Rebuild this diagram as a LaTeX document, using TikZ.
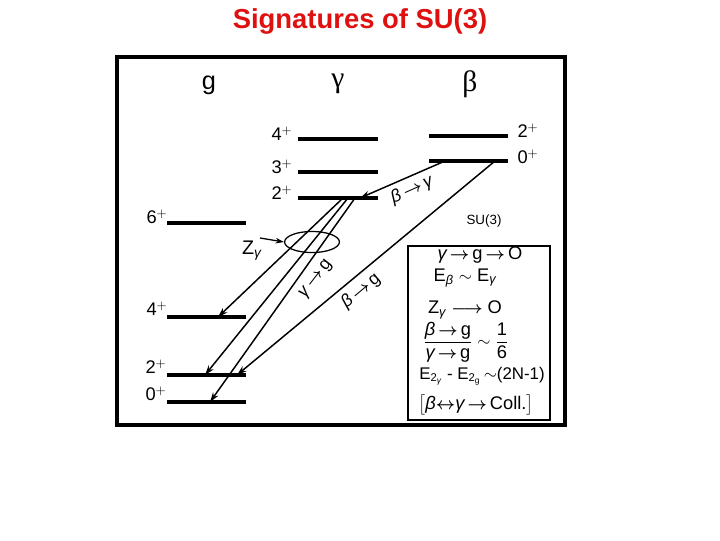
\documentclass[tikz,border=0pt]{standalone}
\usepackage{amsmath}
\usepackage{fontspec}
\setmainfont{Liberation Sans}
\newfontfamily\grk{Liberation Serif}
\usetikzlibrary{arrows.meta,shapes.geometric}
\definecolor{titlered}{RGB}{222,16,16}
\newcommand{\gm}{{\itshape γ}}
\newcommand{\bt}{{\itshape β}}
\newcommand{\ar}{\,$\boldsymbol{\rightarrow}$\,}

\begin{document}
\begin{tikzpicture}[x=0.025cm,y=-0.025cm]

\tikzstyle{lvl}=[line width=2.6pt]
\tikzstyle{trans}=[line width=1.05pt,-{Stealth[length=7pt,width=4.5pt]}]
\tikzstyle{spin}=[inner sep=0pt,font=\fontsize{13}{15}\selectfont]
\tikzstyle{band}=[inner sep=0pt,font=\fontsize{21}{23}\selectfont]
\tikzstyle{rule}=[inner sep=0pt,font=\fontsize{13}{15}\selectfont]
\tikzstyle{tlab}=[inner sep=0pt,font=\fontsize{12.5}{14}\selectfont]

\useasboundingbox (0,0) rectangle (720,540);

\node[inner sep=0pt,text=titlered,font=\fontsize{19.5}{22}\selectfont\bfseries] (title) at (360,21) {Signatures of SU(3)};
\draw[line width=2.2pt] (117,57) rectangle (565,425);

% band heads
\node[band,font=\fontsize{18}{20}\selectfont] (hg) at (209,85) {g};
\node[band] (hgam) at (338,84) {\grk γ};
\node[band] (hbet) at (470,84) {\grk β};

% levels: x from / x to / y
\foreach \xa/\xb/\y in {298/378/139, 298/378/172, 298/378/198,
                        429/508/136, 429/508/161,
                        167/246/223, 167/246/317, 167/246/375, 167/246/402}{
  \draw[lvl] (\xa,\y) -- (\xb,\y);}

% spins
\node[spin] (s4c) at (282,134) {4$^+$};
\node[spin] (s3c) at (282,167) {3$^+$};
\node[spin] (s2c) at (282,193) {2$^+$};
\node[spin] (s2b) at (528,131) {2$^+$};
\node[spin] (s0b) at (528,157) {0$^+$};
\node[spin] (s6g) at (157,217) {6$^+$};
\node[spin] (s4g) at (157,309) {4$^+$};
\node[spin] (s2g) at (156,367) {2$^+$};
\node[spin] (s0g) at (156,394) {0$^+$};

% transition end points
\coordinate (b0a) at (445,161); \coordinate (c2a) at (360,198);
\coordinate (b0b) at (495,161); \coordinate (g2b) at (237,375);
\coordinate (c2b) at (343,198); \coordinate (g4)  at (218,317);
\coordinate (c2c) at (348,198); \coordinate (g2a) at (205,375);
\coordinate (c2d) at (355,198); \coordinate (g0)  at (210,402);
\foreach \i/\j in {b0a/c2a,b0b/g2b,c2b/g4,c2c/g2a,c2d/g0}{\draw[trans] (\i) -- (\j);}

% labels on the transitions
\node[tlab,rotate=24] (lbc) at (412,190) {\bt\ar\gm};
\node[tlab,rotate=40] (lbg) at (361,291) {\bt\ar g};
\node[tlab,rotate=52] (lcg) at (316,279) {\gm\ar g};

% Z_gamma
\node[draw,ellipse,line width=0.9pt,minimum width=39pt,minimum height=15pt,inner sep=0pt] (zell) at (312,242) {};
\node[inner sep=0pt,anchor=east,font=\fontsize{14}{16}\selectfont] (zg) at (262,251) {Z\textsubscript{\gm}};
\draw[line width=0.9pt,-{Stealth[length=6pt,width=4pt]}] (zg.north east) ++(-2,-3) coordinate (zs) -- (zell.west);

% SU(3) limit
\node[inner sep=0pt,font=\fontsize{9.5}{11}\selectfont] (su3) at (484,221) {SU(3)};
\draw[line width=1.3pt] (408,246) rectangle (550,420);
\node[rule] (r1) at (480,255) {\gm\ar g\ar O};
\node[rule] (r2) at (465,278) {E\textsubscript{\bt} $\sim$ E\textsubscript{\gm}};
\node[rule] (r3) at (465,310) {Z\textsubscript{\gm} $\boldsymbol{\longrightarrow}$ O};
\node[rule] (r4) at (466,342) {$\dfrac{\text{\bt\ar g}}{\text{\gm\ar g}}\sim\dfrac{\text{1}}{\text{6}}$};
\node[rule,font=\fontsize{12}{15}\selectfont] (r5) at (482,376) {E\textsubscript{2\textsubscript{\gm}} - E\textsubscript{2\textsubscript{g}}\,$\sim$(2N-1)};
\node[rule] (r6) at (476,405) {$\big[$\bt$\boldsymbol{\leftrightarrow}$\gm\ar Coll.$\big]$};

\end{tikzpicture}
\end{document}
